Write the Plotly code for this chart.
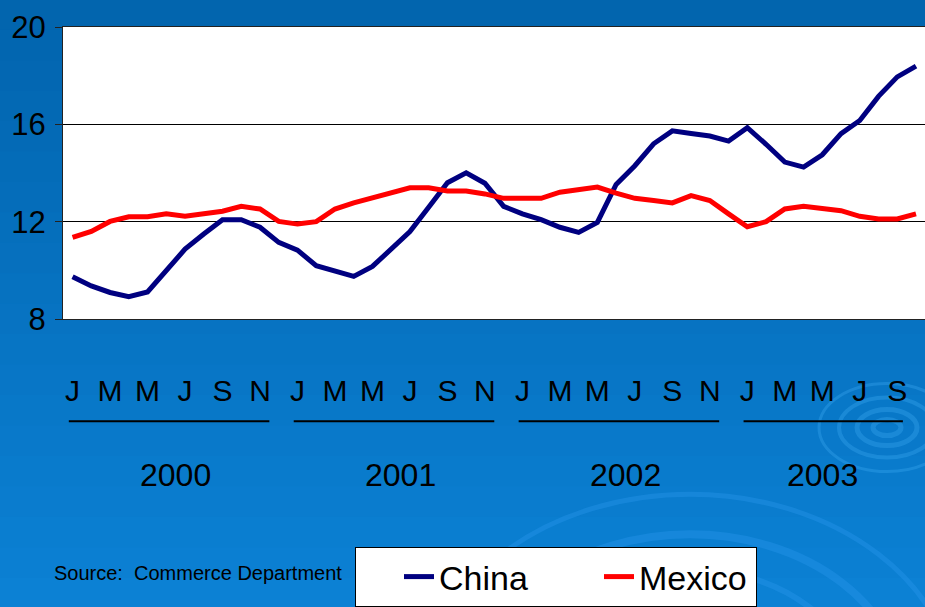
import plotly.graph_objects as go

# monthly values, Jan 2000 .. Oct 2003
months = list(range(46))
china = [9.74, 9.36, 9.09, 8.92, 9.11, 9.98, 10.87, 11.49, 12.08, 12.08,
         11.77, 11.15, 10.83, 10.19, 9.98, 9.75, 10.16, 10.9, 11.59, 12.59,
         13.6, 14.01, 13.58, 12.63, 12.32, 12.08, 11.77, 11.56, 11.97, 13.53,
         14.3, 15.2, 15.73, 15.62, 15.52, 15.31, 15.86, 15.18, 14.45, 14.24,
         14.75, 15.62, 16.16, 17.15, 17.95, 18.39]
mexico = [11.35, 11.6, 12.01, 12.2, 12.2, 12.32, 12.22, 12.32, 12.43, 12.63,
          12.52, 12.01, 11.9, 12.0, 12.52, 12.77, 12.98, 13.18, 13.39, 13.39,
          13.26, 13.26, 13.14, 12.96, 12.96, 12.96, 13.21, 13.31, 13.42, 13.17,
          12.96, 12.87, 12.77, 13.07, 12.87, 12.32, 11.79, 12.0, 12.52, 12.63,
          12.55, 12.45, 12.22, 12.11, 12.11, 12.32]
month_letters = ["J", "M", "M", "J", "S", "N"]
years = ["2000", "2001", "2002", "2003"]
y_ticks = [8, 12, 16, 20]

FONT = "Liberation Sans, Arial, sans-serif"

tickvals = list(range(0, len(months), 2))
ticktext = [month_letters[(v % 12) // 2] for v in tickvals]

fig = go.Figure()
fig.add_trace(go.Scatter(x=months, y=china, mode="lines", name="China",
                         line=dict(color="#000080", width=5)))
fig.add_trace(go.Scatter(x=months, y=mexico, mode="lines", name="Mexico",
                         line=dict(color="#ff0000", width=5)))

shapes = []
# blue gradient background
n_bands = 20
top, bottom = 1.095, -0.99
for i in range(n_bands):
    t = i / (n_bands - 1)
    r = int(2 + 10 * t)
    g = int(101 + 28 * t)
    b = int(174 + 38 * t)
    shapes.append(dict(type="rect", xref="paper", yref="paper", layer="below",
                       x0=-0.1, x1=1.05,
                       y0=top - (top - bottom) * (i + 1) / n_bands - 0.01,
                       y1=top - (top - bottom) * i / n_bands,
                       fillcolor=f"rgb({r},{g},{b})", line=dict(width=0)))
# faint swirls
for rx, ry, w in [(14, 8, 5), (30, 18, 5), (48, 30, 4), (68, 44, 3)]:
    shapes.append(dict(type="circle", xref="paper", yref="paper", layer="below",
                       xsizemode="pixel", ysizemode="pixel",
                       xanchor=(887 - 62.7) / 862.3, yanchor=-(428 - 319.3) / 292.3,
                       x0=-rx, x1=rx, y0=-ry, y1=ry,
                       line=dict(color="rgba(60,170,240,0.35)", width=w)))
for rad, w in [(130, 6), (165, 8), (205, 5)]:
    shapes.append(dict(type="circle", xref="paper", yref="paper", layer="below",
                       xsizemode="pixel", ysizemode="pixel",
                       xanchor=(690 - 62.7) / 862.3, yanchor=-(700 - 319.3) / 292.3,
                       x0=-rad * 1.3, x1=rad * 1.3, y0=-rad, y1=rad,
                       line=dict(color="rgba(40,150,235,0.4)", width=w)))
# white plot area
shapes.append(dict(type="rect", xref="paper", yref="paper", layer="below",
                   x0=0, x1=1, y0=0, y1=1, fillcolor="white", line=dict(width=0)))

# year underlines
annotations = []
for k, yr in enumerate(years):
    start = 12 * k - 0.2
    end = min(12 * k + 10.5, 44.3)
    shapes.append(dict(type="line", xref="x", yref="paper", x0=start, x1=end,
                       y0=-0.350, y1=-0.350, line=dict(color="black", width=2)))
    center = 12 * k + 5.5 if k < 3 else 40
    annotations.append(dict(x=center, y=-0.533, xref="x", yref="paper", text=yr,
                            yanchor="middle", showarrow=False,
                            font=dict(family=FONT, size=32, color="black")))

annotations.append(dict(x=-0.0124, y=-0.87, xref="paper", yref="paper",
                        text="Source:  Commerce Department", xanchor="left",
                        yanchor="middle", showarrow=False,
                        font=dict(family=FONT, size=20, color="black")))

fig.update_layout(
    width=925, height=607,
    margin=dict(l=63, r=0, t=27, b=288),
    paper_bgcolor="#0066ae", plot_bgcolor="rgba(0,0,0,0)",
    shapes=shapes, annotations=annotations,
    showlegend=True,
    legend=dict(orientation="h", xref="container", yref="container",
                x=355 / 925, y=1 - 547 / 607, xanchor="left", yanchor="top",
                bgcolor="white", bordercolor="black", borderwidth=1,
                font=dict(family=FONT, size=34, color="black"),
                indentation=43, entrywidth=112, entrywidthmode="pixels"),
    xaxis=dict(range=[-0.51, 45.48], tickvals=tickvals, ticktext=ticktext,
               tickfont=dict(family=FONT, size=30, color="black"),
               showgrid=False, zeroline=False, ticks="", ticklabelstandoff=45,
               showline=True, linecolor="#222222", linewidth=1, mirror=True),
    yaxis=dict(range=[8, 20], tickvals=y_ticks, ticks="outside", ticklen=7,
               tickcolor="#222222", tickfont=dict(family=FONT, size=31, color="black"),
               showgrid=True, gridcolor="black", gridwidth=1, zeroline=False,
               showline=True, linecolor="#222222", linewidth=1, ticklabelstandoff=3),
)

fig.write_html("out.html", config={"displayModeBar": False},
               post_script="document.body.style.margin='0';document.body.style.overflow='hidden';")
